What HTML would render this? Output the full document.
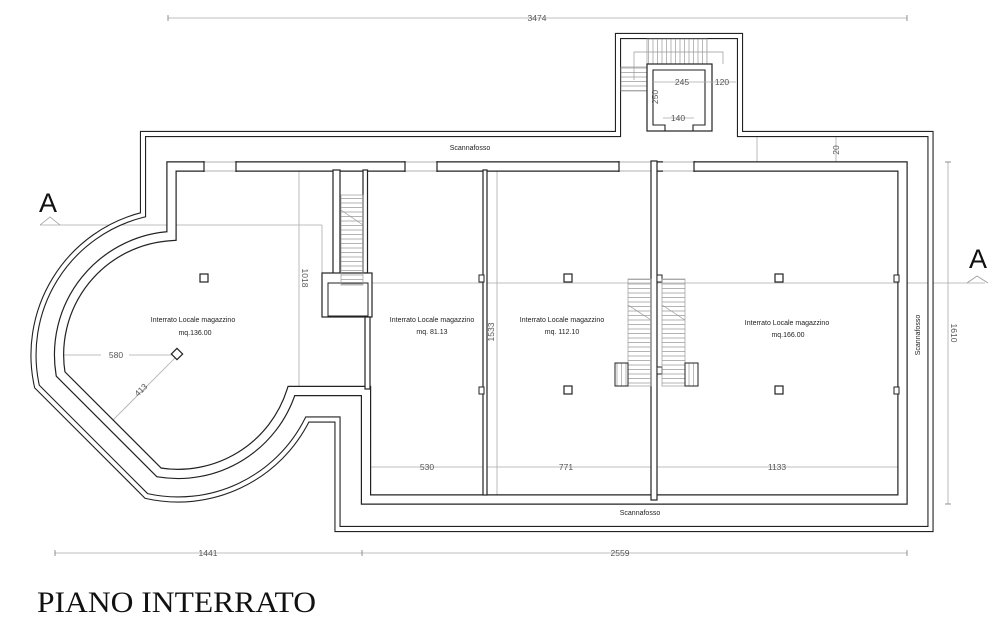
<!DOCTYPE html>
<html><head><meta charset="utf-8"><style>
html,body{margin:0;padding:0;background:#fff;}
svg{display:block;}
.t{font-family:"Liberation Sans",sans-serif;font-size:7px;fill:#222;text-anchor:middle;}
.d{font-family:"Liberation Sans",sans-serif;font-size:8.5px;fill:#555;text-anchor:middle;}
</style></head><body>
<svg width="1000" height="621" viewBox="0 0 1000 621" xmlns="http://www.w3.org/2000/svg">
<defs>
<pattern id="st" width="40" height="4.5" patternUnits="userSpaceOnUse"><line x1="0" y1="0.5" x2="40" y2="0.5" stroke="#999" stroke-width="0.7"/></pattern>
<pattern id="sv" width="4.5" height="40" patternUnits="userSpaceOnUse"><line x1="0.5" y1="0" x2="0.5" y2="40" stroke="#999" stroke-width="0.7"/></pattern>
</defs>
<rect width="1000" height="621" fill="#fff"/>

<!-- grey dimension / section lines -->
<g stroke="#aaa" stroke-width="0.8" fill="none">
<line x1="168" y1="18" x2="907" y2="18"/>
<line x1="55" y1="553" x2="907" y2="553"/>
<line x1="40" y1="225" x2="322" y2="225"/><line x1="322" y1="225" x2="322" y2="283"/>
<line x1="322" y1="283" x2="985" y2="283"/>
<line x1="948" y1="162" x2="948" y2="504"/>
<line x1="497" y1="170" x2="497" y2="495"/>
<line x1="299" y1="170" x2="299" y2="387"/>
<line x1="370" y1="467" x2="898" y2="467"/>
<line x1="62" y1="355" x2="178" y2="355"/>
<line x1="113" y1="420" x2="178" y2="355"/>
<line x1="757" y1="137" x2="757" y2="162"/>
<line x1="836" y1="137" x2="836" y2="162"/>
</g>
<g stroke="#777" stroke-width="0.8">
<line x1="168" y1="15" x2="168" y2="21"/><line x1="907" y1="15" x2="907" y2="21"/>
<line x1="55" y1="550" x2="55" y2="556"/><line x1="362" y1="550" x2="362" y2="556"/><line x1="907" y1="550" x2="907" y2="556"/>
<line x1="945" y1="162" x2="951" y2="162"/><line x1="945" y1="504" x2="951" y2="504"/>
</g>

<!-- scannafosso retaining wall (double line) -->
<path d="M337.5,529 L930.5,529 L930.5,134 L740,134 L740,36 L618,36 L618,134 L143,134 L143,214.8 A144.5,144.5 0 0 0 37,386.6 L146.4,496 A144.5,144.5 0 0 0 307.3,419.5 L337.5,419.5 Z" fill="none" stroke="#222" stroke-width="6.2"/>
<path d="M337.5,529 L930.5,529 L930.5,134 L740,134 L740,36 L618,36 L618,134 L143,134 L143,214.8 A144.5,144.5 0 0 0 37,386.6 L146.4,496 A144.5,144.5 0 0 0 307.3,419.5 L337.5,419.5 Z" fill="none" stroke="#fff" stroke-width="4"/>

<!-- building perimeter wall -->
<path d="M171.5,166.5 L171.5,236 A119,119 0 0 0 60.6,374 L159,472.4 A119,119 0 0 0 291.4,391 L366,391 L366,499.5 L902.5,499.5 L902.5,166.5 Z" fill="none" stroke="#222" stroke-width="10.4"/>
<path d="M171.5,166.5 L171.5,236 A119,119 0 0 0 60.6,374 L159,472.4 A119,119 0 0 0 291.4,391 L366,391 L366,499.5 L902.5,499.5 L902.5,166.5 Z" fill="none" stroke="#fff" stroke-width="8"/>

<!-- openings in top wall -->
<g fill="#fff" stroke="none">
<rect x="204" y="160" width="32" height="13"/><rect x="405" y="160" width="32" height="13"/>
<rect x="619" y="160" width="32" height="13"/><rect x="663" y="160" width="31" height="13"/>
</g>
<g stroke="#999" stroke-width="0.7">
<line x1="204" y1="162" x2="236" y2="162"/><line x1="204" y1="171" x2="236" y2="171"/>
<line x1="405" y1="162" x2="437" y2="162"/><line x1="405" y1="171" x2="437" y2="171"/>
<line x1="619" y1="162" x2="651" y2="162"/><line x1="619" y1="171" x2="651" y2="171"/>
<line x1="663" y1="162" x2="694" y2="162"/><line x1="663" y1="171" x2="694" y2="171"/>
</g>
<g stroke="#222" stroke-width="1.2">
<line x1="204" y1="161" x2="204" y2="172"/><line x1="236" y1="161" x2="236" y2="172"/>
<line x1="405" y1="161" x2="405" y2="172"/><line x1="437" y1="161" x2="437" y2="172"/>
<line x1="619" y1="161" x2="619" y2="172"/><line x1="694" y1="161" x2="694" y2="172"/>
</g>

<!-- interior walls -->
<g fill="#fff" stroke="#222" stroke-width="1.2">
<rect x="333" y="170" width="7" height="107"/>
<rect x="363" y="170" width="4.5" height="103"/>
<rect x="322" y="273" width="50" height="44"/>
<rect x="365" y="317" width="5" height="72"/>
<rect x="483" y="170" width="4" height="325"/>
<rect x="651" y="161" width="6" height="339"/>
</g>
<g fill="none" stroke="#222" stroke-width="1">
<rect x="328" y="283" width="40" height="33"/>
</g>
<g fill="#fff" stroke="none"><rect x="652.3" y="166" width="3.4" height="8"/></g>

<!-- pilasters -->
<g fill="#fff" stroke="#222" stroke-width="1">
<rect x="479" y="275" width="5" height="7"/><rect x="479" y="387" width="5" height="7"/>
<rect x="894" y="275" width="5" height="7"/><rect x="894" y="387" width="5" height="7"/>
<rect x="657" y="275" width="5" height="7"/><rect x="657" y="367" width="5" height="7"/>
</g>

<!-- columns -->
<g fill="#fff" stroke="#222" stroke-width="1.2">
<rect x="200" y="274" width="8" height="8"/>
<rect x="564" y="274" width="8" height="8"/><rect x="564" y="386" width="8" height="8"/>
<rect x="775" y="274" width="8" height="8"/><rect x="775" y="386" width="8" height="8"/>
<rect x="173" y="350" width="8" height="8" transform="rotate(45 177 354)"/>
</g>

<!-- stairs -->
<g stroke="#999" stroke-width="0.7">
<rect x="341" y="195" width="22" height="90" fill="url(#st)"/>
<line x1="341" y1="210" x2="363" y2="225"/>
<rect x="628" y="279" width="23" height="107" fill="url(#st)"/>
<rect x="615" y="363" width="13" height="23" fill="url(#sv)"/>
<line x1="628" y1="305" x2="651" y2="320"/>
<rect x="662" y="279" width="23" height="107" fill="url(#st)"/>
<rect x="685" y="363" width="13" height="23" fill="url(#sv)"/>
<line x1="662" y1="305" x2="685" y2="320"/>
<rect x="647" y="39" width="60" height="25" fill="url(#sv)"/>
<rect x="621" y="67" width="26" height="24" fill="url(#st)"/>
<polyline points="634,80 634,52 723,52 723,64" fill="none"/>
</g>
<g stroke="#222" stroke-width="1" fill="none">
<rect x="615" y="363" width="13" height="23"/><rect x="685" y="363" width="13" height="23"/>
</g>

<!-- tower elevator -->
<rect x="647" y="64" width="65" height="67" fill="#fff" stroke="#222" stroke-width="1.2"/>
<path d="M665,131 L665,125 L653,125 L653,70 L705,70 L705,125 L693,125 L693,131" fill="none" stroke="#222" stroke-width="1.1"/>
<g stroke="#aaa" stroke-width="0.7"><line x1="653" y1="82" x2="736" y2="82"/><line x1="663" y1="118" x2="694" y2="118"/></g>

<!-- texts -->
<text class="t" x="470" y="150">Scannafosso</text>
<text class="t" x="640" y="515">Scannafosso</text>
<text class="t" x="920" y="335" transform="rotate(-90 920 335)">Scannafosso</text>
<text class="t" x="193" y="322">Interrato Locale magazzino</text>
<text class="t" x="195" y="335">mq.136.00</text>
<text class="t" x="432" y="322">Interrato Locale magazzino</text>
<text class="t" x="432" y="334">mq. 81.13</text>
<text class="t" x="562" y="322">Interrato Locale magazzino</text>
<text class="t" x="562" y="334">mq. 112.10</text>
<text class="t" x="787" y="325">Interrato Locale magazzino</text>
<text class="t" x="788" y="337">mq.166.00</text>

<g class="d">
<text x="537" y="21" fill="#555">3474</text>
<text x="208" y="556">1441</text>
<text x="620" y="556">2559</text>
<rect x="101" y="350" width="28" height="10" fill="#fff"/><text x="116" y="358">580</text>
<text x="427" y="470">530</text><text x="566" y="470">771</text><text x="777" y="470">1133</text>
<text x="682" y="85">245</text><text x="722" y="85">120</text><text x="678" y="121">140</text>
<text x="0" y="0" transform="translate(143,392) rotate(-45)">413</text>
<text x="0" y="0" transform="translate(302,278) rotate(90)">1018</text>
<text x="0" y="0" transform="translate(494,332) rotate(-90)">1533</text>
<text x="0" y="0" transform="translate(951,333) rotate(90)">1610</text>
<text x="0" y="0" transform="translate(658,97) rotate(-90)">250</text>
<text x="0" y="0" transform="translate(839,150) rotate(-90)">20</text>
</g>

<!-- section markers -->
<text x="48" y="212" font-family="Liberation Sans, sans-serif" font-size="27" text-anchor="middle" fill="#111">A</text>
<polyline points="40,225 50,217 60,225" fill="none" stroke="#999" stroke-width="0.8"/>
<text x="978" y="268" font-family="Liberation Sans, sans-serif" font-size="27" text-anchor="middle" fill="#111">A</text>
<polyline points="967,283 977,276 988,283" fill="none" stroke="#999" stroke-width="0.8"/>

<text x="37" y="612" font-family="Liberation Serif, serif" font-size="30" fill="#111" textLength="279" lengthAdjust="spacingAndGlyphs">PIANO INTERRATO</text>
</svg>
</body></html>
